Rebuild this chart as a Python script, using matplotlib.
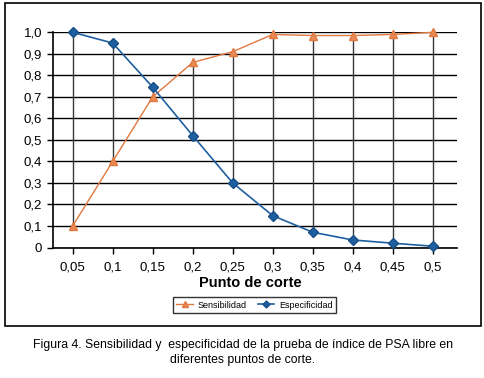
import matplotlib
matplotlib.use("Agg")
import matplotlib.pyplot as plt
from matplotlib.patches import Rectangle
import numpy as np

cortes = ["0,05", "0,1", "0,15", "0,2", "0,25", "0,3", "0,35", "0,4", "0,45", "0,5"]
sensibilidad = [0.10, 0.40, 0.70, 0.86, 0.91, 0.99, 0.985, 0.985, 0.99, 1.00]
especificidad = [1.00, 0.95, 0.745, 0.52, 0.30, 0.148, 0.071, 0.035, 0.02, 0.006]
yticks = [0, 0.1, 0.2, 0.3, 0.4, 0.5, 0.6, 0.7, 0.8, 0.9, 1.0]
ylabels = ["0", "0,1", "0,2", "0,3", "0,4", "0,5", "0,6", "0,7", "0,8", "0,9", "1,0"]

plt.rcParams["font.family"] = ["Liberation Sans", "DejaVu Sans"]

W, H = 485, 378
fig = plt.figure(figsize=(W / 100, H / 100), dpi=100)
ax = fig.add_axes([52.7 / W, 130.5 / H, 404 / W, 215.2 / H])

x = np.arange(len(cortes))

# high-low lines between the two series
ax.vlines(x, especificidad, sensibilidad, color="#3a3a3a", lw=1.0, zorder=2)

ax.plot(x, sensibilidad, color="#e07840", lw=1.0, marker="^", ms=6,
        mec="#e07840", mfc="#e98a55", label="Sensibilidad", clip_on=False, zorder=3)
ax.plot(x, especificidad, color="#1f5fa0", lw=1.2, marker="D", ms=5,
        mec="#154f8a", mfc="#1f5fa0", label="Especificidad", clip_on=False, zorder=3)

ax.set_xlim(-0.5, 9.6)
ax.set_ylim(0, 1.0)
ax.set_xticks(x)
ax.set_xticklabels(cortes, fontsize=9.5)
ax.set_yticks(yticks)
ax.set_yticklabels(ylabels, fontsize=9.5)
ax.tick_params(axis="x", direction="out", length=4, width=1, color="black", pad=6)
ax.tick_params(axis="y", direction="out", length=4, width=1, color="black", pad=3.5)
ax.grid(axis="y", color="black", lw=1.0)
ax.set_axisbelow(True)
for s in ["top", "right"]:
    ax.spines[s].set_visible(False)
for s in ["left", "bottom"]:
    ax.spines[s].set_linewidth(1.2)

fig.text(250 / W, 1 - 283 / H, "Punto de corte", ha="center", va="center",
         fontsize=10.5, fontweight="bold")

handles, labels = ax.get_legend_handles_labels()
leg = fig.legend(handles, labels, loc="center", bbox_to_anchor=(254.5 / W, 1 - 305 / H),
                 ncol=2, fontsize=6.5, frameon=True, fancybox=False, edgecolor="black",
                 handlelength=1.8, handletextpad=0.5, columnspacing=1.3, borderpad=0.4,
                 markerscale=0.7)
leg.get_frame().set_linewidth(1.0)

fig.patches.append(Rectangle((5 / W, 52 / H), 476 / W, 323 / H, transform=fig.transFigure,
                             fill=False, edgecolor="black", lw=1.2))

fig.text(243 / W, 1 - 345 / H,
         "Figura 4. Sensibilidad y  especificidad de la prueba de índice de PSA libre en",
         ha="center", va="center", fontsize=8.8)
fig.text(243 / W, 1 - 359.5 / H, "diferentes puntos de corte.",
         ha="center", va="center", fontsize=8.8)

fig.savefig("out.png", dpi=100)
